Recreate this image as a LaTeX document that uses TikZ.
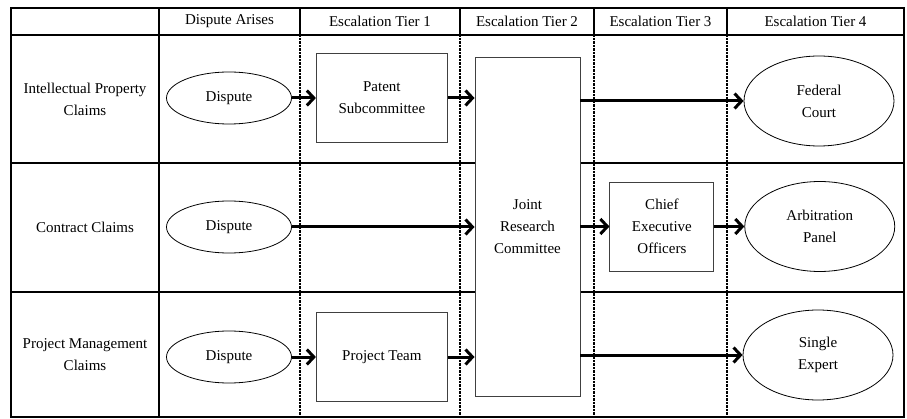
\documentclass[tikz,border=0pt]{standalone}
\usepackage{fontspec}
\setmainfont{Liberation Serif}
\usetikzlibrary{positioning}
\usetikzlibrary{shapes.geometric}
\usetikzlibrary{arrows.meta}
\tikzstyle{frame} = [line width=2pt]
\tikzstyle{lane} = [line width=1.4pt, dash pattern=on 0.7pt off 0.7pt]
\tikzstyle{cell} = [align=center]
\tikzstyle{stage} = [draw=black!75, line width=0.9pt, fill=white, rectangle, align=center, minimum width=131pt, minimum height=89pt]
\tikzstyle{event} = [draw, line width=0.8pt, fill=white, ellipse, align=center, inner sep=0pt, minimum width=125pt, minimum height=52pt]
\tikzstyle{forum} = [draw, line width=0.8pt, fill=white, ellipse, align=center, inner sep=0pt, minimum width=150pt, minimum height=90pt]
\tikzstyle{flow} = [line width=3pt, -{Straight Barb[length=7pt,width=15pt]}]

\begin{document}
\begin{tikzpicture}[x=1pt,y=-1pt,every node/.style={font=\fontsize{15}{22}\selectfont}]
    \useasboundingbox (0,0) rectangle (907,419);

    % table
    \draw [frame] (11,8) rectangle (904,417);
    \draw [frame] (159,8) -- (159,417);
    \draw [frame] (11,35) -- (904,35);
    \draw [frame] (11,163) -- (904,163);
    \draw [frame] (11,292) -- (904,292);
    \draw [frame] (300,8) -- (300,35);
    \draw [frame] (460,8) -- (460,35);
    \draw [frame] (594,8) -- (594,35);
    \draw [frame] (727,8) -- (727,35);
    \draw [lane] (300,35) -- (300,417);
    \draw [lane] (460,35) -- (460,417);
    \draw [lane] (594,35) -- (594,417);
    \draw [lane] (727,35) -- (727,417);

    % column heads
    \node [cell] (arises) at (229.5,21.5) {Dispute Arises};
    \node [cell] (tier1) at (380,21.5) {Escalation Tier 1};
    \node [cell] (tier2) at (527,21.5) {Escalation Tier 2};
    \node [cell] (tier3) at (660.5,21.5) {Escalation Tier 3};
    \node [cell] (tier4) at (815.5,21.5) {Escalation Tier 4};

    % row heads
    \node [cell] (ipclaims) at (85,99) {Intellectual Property\\Claims};
    \node [cell] (ctclaims) at (85,227.5) {Contract Claims};
    \node [cell] (pmclaims) at (85,355) {Project Management\\Claims};

    % nodes
    \node [event] (dis1) at (229,98) {Dispute};
    \node [event] (dis2) at (229,227) {Dispute};
    \node [event] (dis3) at (229,357) {Dispute};
    \node [stage, right = 24pt of dis1] (patent) {Patent\\Subcommittee};
    \node [stage, right = 24pt of dis3] (project) {Project Team};
    \node [stage, minimum width=105pt, minimum height=339pt] (jrc) at (527.5,226.5) {Joint\\Research\\Committee};
    \node [stage, minimum width=104pt, right = 29pt of jrc] (ceo) {Chief\\Executive\\Officers};
    \node [forum, right = 30pt of ceo] (arb) {Arbitration\\Panel};
    \node [forum] (court) at (819,101) {Federal\\Court};
    \node [forum] (expert) at (818,355) {Single\\Expert};

    \draw [flow] (dis1) -- (patent); % connections
    \draw [flow] (patent) -- (patent -| jrc.west);
    \draw [flow] (jrc.east |- court) -- (court);
    \draw [flow] (dis2) -- (dis2 -| jrc.west);
    \draw [flow] (jrc.east |- ceo) -- (ceo);
    \draw [flow] (ceo) -- (arb);
    \draw [flow] (dis3) -- (project);
    \draw [flow] (project) -- (project -| jrc.west);
    \draw [flow] (jrc.east |- expert) -- (expert);
\end{tikzpicture}
\end{document}
